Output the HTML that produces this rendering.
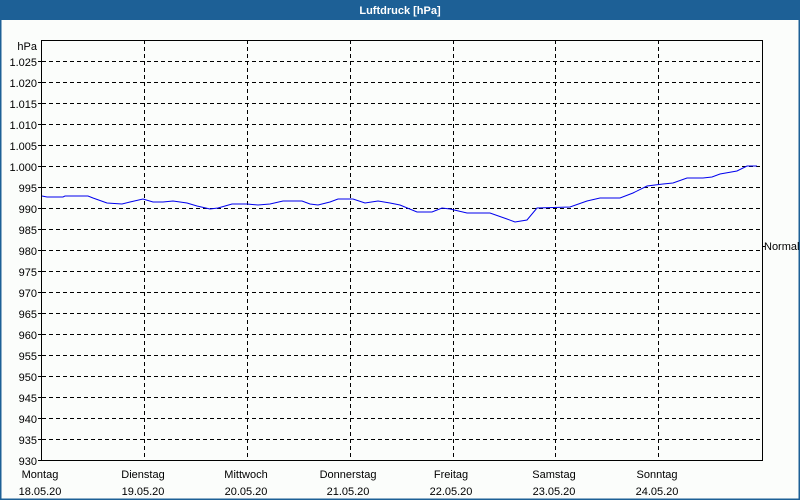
<!DOCTYPE html>
<html><head><meta charset="utf-8"><style>
html,body{margin:0;padding:0;}
body{width:800px;height:500px;overflow:hidden;background:#fbfdfb;}
svg{display:block;font-family:"Liberation Sans",sans-serif;font-size:11px;}
</style></head><body>
<svg width="800" height="500" viewBox="0 0 800 500" xmlns="http://www.w3.org/2000/svg">
<rect x="0" y="0" width="800" height="500" fill="#fbfdfb"/>
<rect x="0.5" y="0.5" width="799" height="499" fill="none" stroke="#1d6096" stroke-width="2"/>
<rect x="0" y="0" width="800" height="20" fill="#1d6096"/>
<text x="400" y="14" text-anchor="middle" fill="#fff" font-weight="bold">Luftdruck [hPa]</text>
<g stroke="#000" stroke-width="1" stroke-dasharray="4,3" fill="none">
<path d="M42 61.5H762M42 82.5H762M42 103.5H762M42 124.5H762M42 145.5H762M42 166.5H762M42 187.5H762M42 208.5H762M42 229.5H762M42 250.5H762M42 271.5H762M42 292.5H762M42 313.5H762M42 334.5H762M42 355.5H762M42 376.5H762M42 397.5H762M42 418.5H762M42 439.5H762"/>
<path d="M144.5 40V460M247.5 40V460M350.5 40V460M453.5 40V460M555.5 40V460M658.5 40V460"/>
</g>
<rect x="41.5" y="40.5" width="721" height="420" fill="none" stroke="#000"/>
<g stroke="#000"><path d="M38 61.5H42M38 82.5H42M38 103.5H42M38 124.5H42M38 145.5H42M38 166.5H42M38 187.5H42M38 208.5H42M38 229.5H42M38 250.5H42M38 271.5H42M38 292.5H42M38 313.5H42M38 334.5H42M38 355.5H42M38 376.5H42M38 397.5H42M38 418.5H42M38 439.5H42M38 460.5H42M762 246.5H765"/></g>
<g text-anchor="end" fill="#000">
<text x="37" y="50">hPa</text>
<text x="37" y="66">1.025</text><text x="37" y="87">1.020</text><text x="37" y="108">1.015</text><text x="37" y="129">1.010</text><text x="37" y="150">1.005</text><text x="37" y="171">1.000</text>
<text x="37" y="192">995</text><text x="37" y="213">990</text><text x="37" y="234">985</text><text x="37" y="255">980</text><text x="37" y="276">975</text><text x="37" y="297">970</text><text x="37" y="318">965</text><text x="37" y="339">960</text><text x="37" y="360">955</text><text x="37" y="381">950</text><text x="37" y="402">945</text><text x="37" y="423">940</text><text x="37" y="444">935</text><text x="37" y="465">930</text>
</g>
<text x="764" y="250" fill="#000">Normal</text>
<g text-anchor="middle" fill="#000">
<text x="40" y="478">Montag</text><text x="40" y="495">18.05.20</text>
<text x="143" y="478">Dienstag</text><text x="143" y="495">19.05.20</text>
<text x="246" y="478">Mittwoch</text><text x="246" y="495">20.05.20</text>
<text x="348" y="478">Donnerstag</text><text x="348" y="495">21.05.20</text>
<text x="451" y="478">Freitag</text><text x="451" y="495">22.05.20</text>
<text x="554" y="478">Samstag</text><text x="554" y="495">23.05.20</text>
<text x="657" y="478">Sonntag</text><text x="657" y="495">24.05.20</text>
</g>
<polyline fill="none" stroke="#0000ee" stroke-width="1" points="42,196 47,197 63,197 65,196 88,196 93,198 107,203 122,204 130,202 143,199 153,202 163,202 173,201 187,203 197,206 210,209 218,208 232,204 247,204 258,205 270,204 283,201 302,201 310,204 318,205 330,202 338,199 353,199 365,203 378,201 390,203 400,205 417,212 432,212 442,208 450,209 467,213 490,213 507,219 515,222 527,220 537,208 570,207 587,201 600,198 620,198 633,193 647,186 663,184 673,183 687,178 703,178 712,177 720,174 737,171 747,166 757,166"/>
</svg>
</body></html>
